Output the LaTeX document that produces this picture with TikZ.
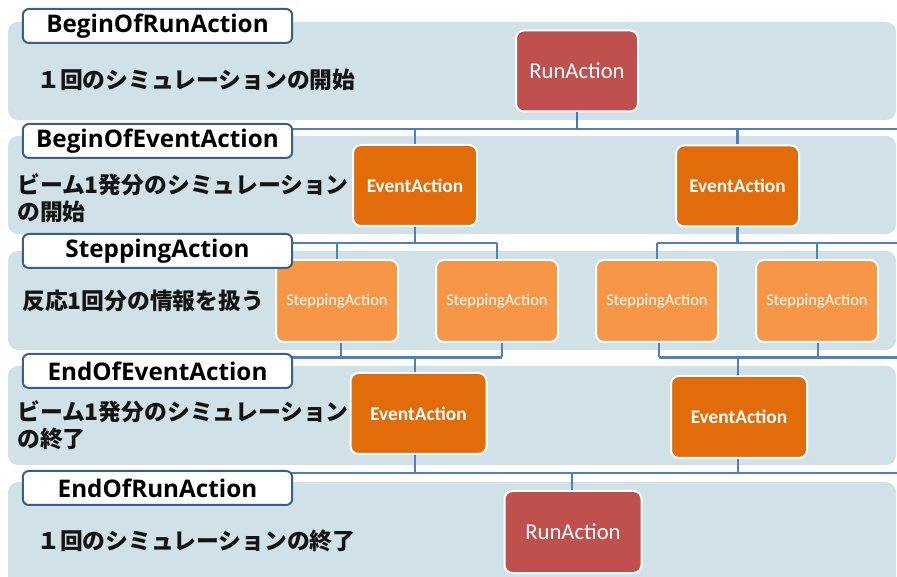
\documentclass[tikz,border=0pt]{standalone}
\usepackage{fontspec}
\setmainfont{Carlito}
\newfontfamily\headfont{Open Sans}
\newfontfamily\jpfont{Noto Sans CJK JP}
\definecolor{bandfill}{RGB}{208,225,232}
\definecolor{labeledge}{RGB}{60,94,138}
\definecolor{linkblue}{RGB}{79,129,189}
\definecolor{runred}{RGB}{192,80,77}
\definecolor{eventorange}{RGB}{227,108,10}
\definecolor{steporange}{RGB}{247,150,70}
\tikzset{
  band/.style={fill=bandfill, rounded corners=7.5pt},
  phaselabel/.style={draw=labeledge, line width=1.5pt, fill=white, rounded corners=4.5pt,
    minimum width=202pt, minimum height=25.5pt, inner sep=0pt,
    font=\headfont\bfseries\fontsize{18.2}{20}\selectfont},
  desc/.style={anchor=west, inner sep=0pt, align=left, text=black!92,
    font=\jpfont\bfseries\fontsize{17.1}{20.5}\selectfont},
  link/.style={draw=linkblue, line width=1.6pt},
  box/.style={draw=white, line width=1.5pt, rounded corners=6pt, text=white, inner sep=0pt},
  runbox/.style={box, fill=runred, font=\fontsize{17}{18}\selectfont},
  eventbox/.style={box, fill=eventorange, font=\bfseries\fontsize{14.5}{16}\selectfont},
  stepbox/.style={box, fill=steporange, minimum width=91.5pt, minimum height=61.5pt,
    font=\fontsize{12.3}{14}\selectfont},
}
\begin{document}
\begin{tikzpicture}[x=0.75pt, y=-0.75pt]
\useasboundingbox (0,0) rectangle (897,577);
\clip (0,0) rectangle (897,577);

% phase bands
\fill[band] (8,22)  rectangle (896,120);
\fill[band] (8,136) rectangle (896,234);
\fill[band] (8,251) rectangle (896,350);
\fill[band] (8,366) rectangle (896,465);
\fill[band] (8,482) rectangle (896,592);

% action boxes
\node[runbox, minimum width=91.5pt, minimum height=60.75pt] (run1) at (577,71) {RunAction};
\node[eventbox, minimum width=93pt, minimum height=60.75pt] (ev1) at (415,185.5) {EventAction};
\node[eventbox, minimum width=92.25pt, minimum height=60.75pt] (ev2) at (737.5,186) {EventAction};
\node[stepbox] (st1) at (337,301) {SteppingAction};
\node[stepbox] (st2) at (497,301) {SteppingAction};
\node[stepbox] (st3) at (657,301) {SteppingAction};
\node[stepbox] (st4) at (817,301) {SteppingAction};
\node[eventbox, minimum width=102pt, minimum height=60.75pt] (ev3) at (418.5,413.5) {EventAction};
\node[eventbox, minimum width=102pt, minimum height=61.5pt] (ev4) at (739,417) {EventAction};
\node[runbox, minimum width=102.75pt, minimum height=61.5pt] (run2) at (573,532) {RunAction};

% bus lines
\coordinate (busA1) at (280,129);  \coordinate (busA2) at (897,129);
\coordinate (busB1) at (280,243);  \coordinate (busB2) at (497,243);
\coordinate (busC1) at (657,243);  \coordinate (busC2) at (897,243);
\coordinate (busD1) at (280,357.5);\coordinate (busD2) at (502,357.5);
\coordinate (busE1) at (659,357.5);\coordinate (busE2) at (897,357.5);
\coordinate (busF1) at (280,473);  \coordinate (busF2) at (897,473);

% run -> events
\draw[link] (busA1) -- (busA2);
\draw[link, draw=linkblue!70!teal] (run1.south) -- (run1.south |- busA1);
\draw[link] (ev1.north) -- (ev1.north |- busA1);
\draw[link] (ev2.north) -- (ev2.north |- busA1);

% events -> steps
\draw[link] (busB1) -- (busB2);
\draw[link] (ev1.south) -- (ev1.south |- busB1);
\draw[link] (st1.north) -- (st1.north |- busB1);
\draw[link] (st2.north) -- (st2.north |- busB1);
\draw[link] (busC1) -- (busC2);
\draw[link] (ev2.south) -- (ev2.south |- busC1);
\draw[link] (st3.north) -- (st3.north |- busC1);
\draw[link] (st4.north) -- (st4.north |- busC1);

% steps -> end events
\draw[link] (busD1) -- (busD2);
\draw[link] ([xshift=3pt]st1.south) -- ([xshift=3pt]st1.south |- busD1);
\draw[link] ([xshift=3.75pt]st2.south) -- ([xshift=3.75pt]st2.south |- busD1);
\draw[link] ([xshift=-2.6pt]ev3.north) -- ([xshift=-2.6pt]ev3.north |- busD1);
\draw[link] (busE1) -- (busE2);
\draw[link] ([xshift=1.5pt]st3.south) -- ([xshift=1.5pt]st3.south |- busE1);
\draw[link] ([xshift=0.75pt]st4.south) -- ([xshift=0.75pt]st4.south |- busE1);
\draw[link] ([xshift=-0.75pt]ev4.north) -- ([xshift=-0.75pt]ev4.north |- busE1);

% end events -> end run
\draw[link] (busF1) -- (busF2);
\draw[link] ([xshift=-2.6pt]ev3.south) -- ([xshift=-2.6pt]ev3.south |- busF1);
\draw[link] ([xshift=-0.75pt]ev4.south) -- ([xshift=-0.75pt]ev4.south |- busF1);
\draw[link] ([xshift=-0.75pt]run2.north) -- ([xshift=-0.75pt]run2.north |- busF1);

% phase labels
\node[phaselabel] (lab1) at (157.5,26)  {BeginOfRunAction};
\node[phaselabel] (lab2) at (157.5,141) {BeginOfEventAction};
\node[phaselabel] (lab3) at (157.5,251) {SteppingAction};
\node[phaselabel] (lab4) at (157.5,371) {EndOfEventAction};
\node[phaselabel] (lab5) at (157.5,488) {EndOfRunAction};

% phase descriptions
\node[desc] (d1) at (37,80)  {１回のシミュレーションの開始};
\node[desc] (d2) at (17,198) {ビーム1発分のシミュレーション\\の開始};
\node[desc] (d3) at (22,301) {反応1回分の情報を扱う};
\node[desc] (d4) at (17,425) {ビーム1発分のシミュレーション\\の終了};
\node[desc] (d5) at (37,541) {１回のシミュレーションの終了};
\end{tikzpicture}
\end{document}
